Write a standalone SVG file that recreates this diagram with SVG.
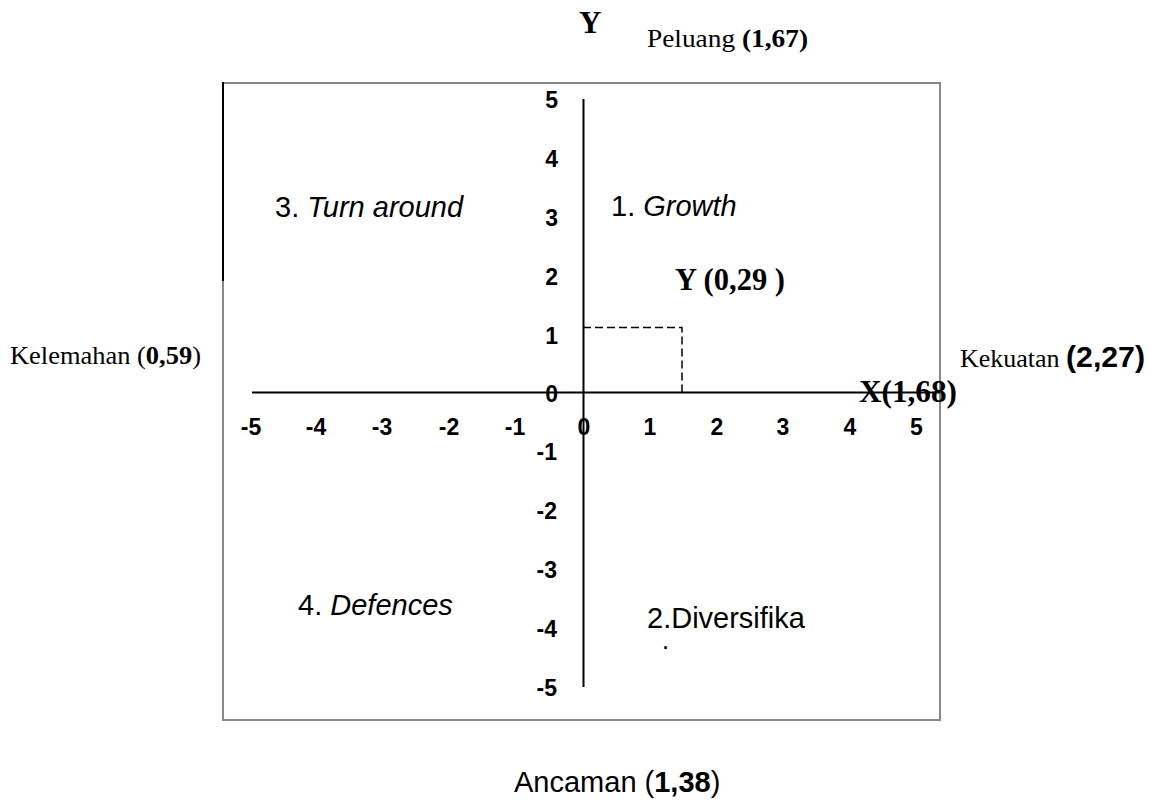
<svg xmlns="http://www.w3.org/2000/svg" width="1151" height="800" viewBox="0 0 1151 800">
<style>
.ax{stroke:#000;stroke-width:2;fill:none}
.tk{font-family:"Liberation Sans",Arial,sans-serif;font-weight:bold;font-size:23px;fill:#000;text-anchor:middle}
.ty{font-family:"Liberation Sans",Arial,sans-serif;font-weight:bold;font-size:23px;fill:#000;text-anchor:end}
.lab{font-family:"Liberation Sans",Arial,sans-serif;font-size:29px;fill:#000}
.ser{font-family:"Liberation Serif","Times New Roman",serif;font-size:26px;fill:#000}
.serb{font-family:"Liberation Serif","Times New Roman",serif;font-weight:bold;font-size:31px;fill:#000}
</style>
<rect width="1151" height="800" fill="#fff"/>
<g id="frame">
<rect x="223" y="83" width="717" height="637" fill="none" stroke="#888" stroke-width="2"/>
<line x1="223" y1="82" x2="223" y2="281" stroke="#000" stroke-width="2"/>
</g>
<g id="connectors">
<line class="ax" x1="583.5" y1="99" x2="583.5" y2="687"/>
<line class="ax" x1="252" y1="392.5" x2="940" y2="392.5"/>
<polyline points="583,327.5 682,327.5 682,392" fill="none" stroke="#000" stroke-width="1.5" stroke-dasharray="8,4"/>
</g>
<g id="yticks">
<text class="ty" x="558" y="108">5</text>
<text class="ty" x="558" y="167">4</text>
<text class="ty" x="558" y="226">3</text>
<text class="ty" x="558" y="285">2</text>
<text class="ty" x="558" y="344">1</text>
<text class="ty" x="558" y="402">0</text>
<text class="ty" x="557" y="460">-1</text>
<text class="ty" x="557" y="519">-2</text>
<text class="ty" x="557" y="578">-3</text>
<text class="ty" x="557" y="637">-4</text>
<text class="ty" x="557" y="696">-5</text>
</g>
<g id="xticks">
<text class="tk" x="251" y="435">-5</text>
<text class="tk" x="316" y="435">-4</text>
<text class="tk" x="382" y="435">-3</text>
<text class="tk" x="449" y="435">-2</text>
<text class="tk" x="515" y="435">-1</text>
<text class="tk" x="584" y="435">0</text>
<text class="tk" x="650" y="435">1</text>
<text class="tk" x="717" y="435">2</text>
<text class="tk" x="783" y="435">3</text>
<text class="tk" x="850" y="435">4</text>
<text class="tk" x="916.5" y="435">5</text>
</g>
<g id="title-y"><text class="serb" x="579" y="33" font-size="28">Y</text></g>
<g id="peluang"><text class="ser" x="647" y="47" textLength="161" lengthAdjust="spacingAndGlyphs">Peluang  <tspan font-weight="bold">(1,67)</tspan></text></g>
<g id="kelemahan"><text class="ser" x="10" y="364" textLength="191" lengthAdjust="spacingAndGlyphs">Kelemahan (<tspan font-weight="bold">0,59</tspan>)</text></g>
<g id="kekuatan"><text class="ser" x="960" y="367">Kekuatan <tspan x="1066" font-family="Liberation Sans,Arial,sans-serif" font-weight="bold" font-size="29" textLength="79" lengthAdjust="spacingAndGlyphs">(2,27)</tspan></text></g>
<g id="x-point"><text class="serb" x="859" y="402" textLength="98" lengthAdjust="spacingAndGlyphs">X(1,68)</text></g>
<g id="y-point"><text class="serb" x="675" y="290" font-size="33" textLength="110" lengthAdjust="spacingAndGlyphs">Y (0,29 )</text></g>
<g id="q1"><text class="lab" x="611" y="216">1. <tspan font-style="italic">Growth</tspan></text></g>
<g id="q3"><text class="lab" x="275" y="217">3. <tspan font-style="italic">Turn around</tspan></text></g>
<g id="q4"><text class="lab" x="298" y="615">4. <tspan font-style="italic">Defences</tspan></text></g>
<g id="q2"><text class="lab" x="647" y="628">2.Diversifika<tspan x="663" y="649" font-size="18" font-weight="bold">.</tspan></text></g>
<g id="ancaman"><text class="lab" x="514" y="792">Ancaman (<tspan font-weight="bold">1,38</tspan>)</text></g>
</svg>
